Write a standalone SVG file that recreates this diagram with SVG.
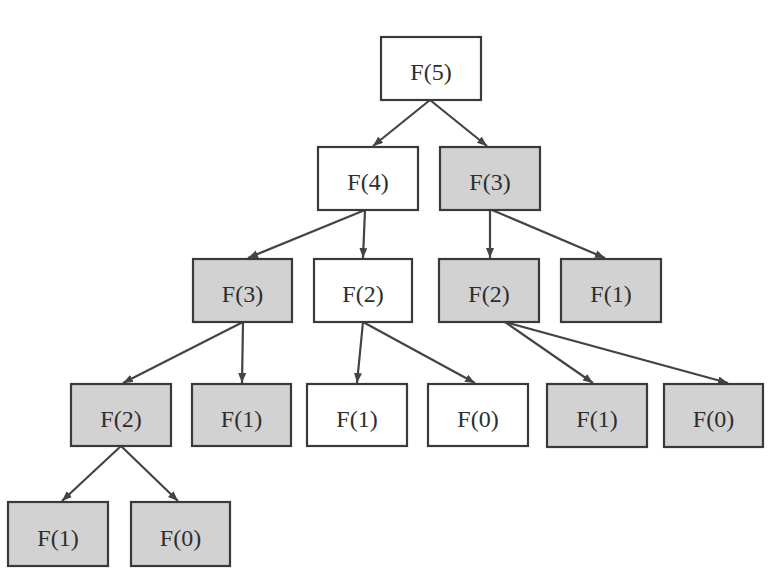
<svg xmlns="http://www.w3.org/2000/svg" width="778" height="578" viewBox="0 0 778 578">
<style>
.box{stroke:#3a3a3a;stroke-width:2.2}
.w{fill:#ffffff}
.g{fill:#d2d2d2}
.t{font-family:"Liberation Serif","Times New Roman",serif;font-size:24px;fill:#2e2e2e;text-anchor:middle}
.e{stroke:#444;stroke-width:2.2;fill:none;marker-end:url(#ah)}
</style>
<defs>
<marker id="ah" markerUnits="userSpaceOnUse" markerWidth="12" markerHeight="10" refX="10" refY="4" orient="auto">
<path d="M0,0 L10,4 L0,8 Z" fill="#444"/>
</marker>
</defs>
<rect width="778" height="578" fill="#ffffff"/>
<g id="connectors">
<line class="e" x1="430" y1="100" x2="373" y2="146"/>
<line class="e" x1="430" y1="100" x2="487" y2="146"/>
<line class="e" x1="365" y1="210" x2="248" y2="258"/>
<line class="e" x1="365" y1="210" x2="363" y2="258"/>
<line class="e" x1="490" y1="210" x2="490" y2="258"/>
<line class="e" x1="492" y1="210" x2="605" y2="258"/>
<line class="e" x1="243" y1="322" x2="123" y2="383"/>
<line class="e" x1="243" y1="322" x2="242" y2="383"/>
<line class="e" x1="363" y1="322" x2="357" y2="383"/>
<line class="e" x1="363" y1="322" x2="475" y2="383"/>
<line class="e" x1="505" y1="322" x2="593" y2="383"/>
<line class="e" x1="505" y1="322" x2="728" y2="383"/>
<line class="e" x1="121" y1="446" x2="62" y2="501"/>
<line class="e" x1="121" y1="446" x2="178" y2="501"/>
</g>
<g id="n1"><rect class="box w" x="381" y="37" width="100" height="63"/><text class="t" x="431" y="80">F(5)</text></g>
<g id="n2"><rect class="box w" x="318" y="147" width="100" height="63"/><text class="t" x="368" y="190">F(4)</text></g>
<g id="n3"><rect class="box g" x="440" y="147" width="100" height="63"/><text class="t" x="490" y="190">F(3)</text></g>
<g id="n4"><rect class="box g" x="193" y="259" width="99" height="63"/><text class="t" x="242.5" y="302">F(3)</text></g>
<g id="n5"><rect class="box w" x="314" y="259" width="98" height="63"/><text class="t" x="363" y="302">F(2)</text></g>
<g id="n6"><rect class="box g" x="439" y="259" width="100" height="63"/><text class="t" x="489" y="302">F(2)</text></g>
<g id="n7"><rect class="box g" x="561" y="259" width="100" height="63"/><text class="t" x="611" y="302">F(1)</text></g>
<g id="n8"><rect class="box g" x="71" y="384" width="100" height="62"/><text class="t" x="121" y="427">F(2)</text></g>
<g id="n9"><rect class="box g" x="192" y="384" width="99" height="62"/><text class="t" x="241.5" y="427">F(1)</text></g>
<g id="n10"><rect class="box w" x="307" y="384" width="100" height="62"/><text class="t" x="357" y="427">F(1)</text></g>
<g id="n11"><rect class="box w" x="428" y="384" width="100" height="62"/><text class="t" x="478" y="427">F(0)</text></g>
<g id="n12"><rect class="box g" x="547" y="384" width="100" height="63"/><text class="t" x="597" y="427">F(1)</text></g>
<g id="n13"><rect class="box g" x="664" y="384" width="99" height="63"/><text class="t" x="713.5" y="427">F(0)</text></g>
<g id="n14"><rect class="box g" x="8" y="502" width="100" height="64"/><text class="t" x="58" y="546">F(1)</text></g>
<g id="n15"><rect class="box g" x="131" y="502" width="99" height="64"/><text class="t" x="180.5" y="546">F(0)</text></g>
</svg>
